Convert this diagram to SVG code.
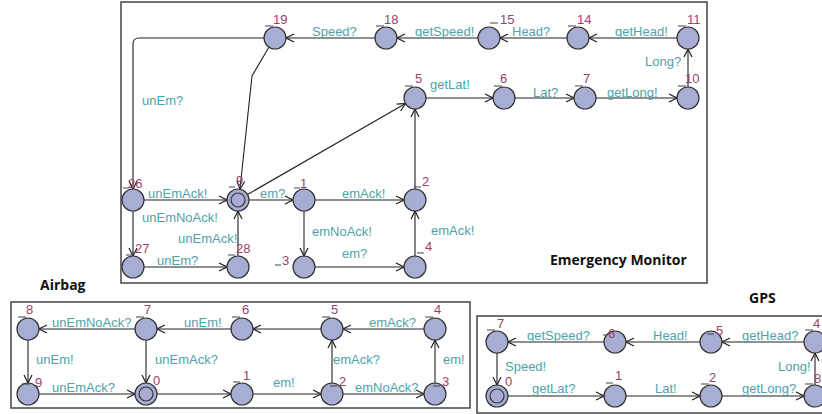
<svg xmlns="http://www.w3.org/2000/svg" width="822" height="414" viewBox="0 0 822 414">
<style>
.n circle{fill:#a7add3;stroke:#333;stroke-width:1.2}
.n line{stroke:#444;stroke-width:1}
.nm{font-family:"Liberation Sans",Arial,sans-serif;font-size:13px;fill:#9c3f6a}
.lbl{font-family:"Liberation Sans",Arial,sans-serif;font-size:13px;fill:#4ea3a8}
.e{stroke:#222;stroke-width:1.1;fill:none;marker-end:url(#a)}
.fr{fill:none;stroke:#444;stroke-width:1.5}
.ttl{font-family:"Open Sans","Noto Sans",sans-serif;font-size:14px;font-weight:bold;fill:#111}
</style>
<defs>
<marker id="a" markerUnits="userSpaceOnUse" markerWidth="10" markerHeight="10" viewBox="0 0 10 10" refX="9" refY="5" orient="auto">
<path d="M1,1 L9,5 L1,9" fill="none" stroke="#222" stroke-width="1.2"/>
</marker>
</defs>
<rect width="822" height="414" fill="#fff"/>

<!-- frames -->
<rect class="fr" x="121" y="2" width="586" height="281"/>
<rect class="fr" x="11" y="302" width="459" height="106"/>
<rect class="fr" x="477" y="316" width="360" height="97"/>
<text class="ttl" x="550" y="265">Emergency Monitor</text>
<text class="ttl" x="40" y="290">Airbag</text>
<text class="ttl" x="749" y="303">GPS</text>

<!-- connectors -->
<g id="connectors">
<!-- Emergency Monitor -->
<line class="e" x1="677" y1="38" x2="589" y2="38"/>
<line class="e" x1="567" y1="38" x2="500" y2="38"/>
<line class="e" x1="478" y1="38" x2="397" y2="38"/>
<line class="e" x1="375" y1="38" x2="286" y2="38"/>
<path class="e" d="M264,38 H139 Q133,38 133,44 V189"/>
<path class="e" d="M269,47 L252,76 L240,189"/>
<line class="e" x1="247.5" y1="194.5" x2="405.5" y2="103.5"/>
<line class="e" x1="688" y1="87" x2="688" y2="49"/>
<line class="e" x1="426" y1="98" x2="493" y2="98"/>
<line class="e" x1="515" y1="98" x2="574" y2="98"/>
<line class="e" x1="596" y1="98" x2="677" y2="98"/>
<line class="e" x1="144" y1="200" x2="227" y2="200"/>
<line class="e" x1="133" y1="211" x2="133" y2="256"/>
<line class="e" x1="144" y1="267" x2="227" y2="267"/>
<line class="e" x1="238" y1="256" x2="238" y2="211"/>
<line class="e" x1="249" y1="200" x2="293" y2="200"/>
<line class="e" x1="315" y1="200" x2="404" y2="200"/>
<line class="e" x1="304" y1="211" x2="304" y2="256"/>
<line class="e" x1="315" y1="267" x2="404" y2="267"/>
<line class="e" x1="415" y1="256" x2="415" y2="211"/>
<line class="e" x1="415" y1="189" x2="415" y2="109"/>
<!-- Airbag -->
<line class="e" x1="135" y1="329" x2="39" y2="329"/>
<line class="e" x1="231" y1="329" x2="157" y2="329"/>
<line class="e" x1="321" y1="329" x2="253" y2="329"/>
<line class="e" x1="424" y1="329" x2="343" y2="329"/>
<line class="e" x1="28" y1="340" x2="28" y2="383"/>
<line class="e" x1="146" y1="340" x2="146" y2="383"/>
<line class="e" x1="39" y1="394" x2="135" y2="394"/>
<line class="e" x1="157" y1="394" x2="231" y2="394"/>
<line class="e" x1="253" y1="394" x2="321" y2="394"/>
<line class="e" x1="332" y1="383" x2="332" y2="340"/>
<line class="e" x1="343" y1="394" x2="424" y2="394"/>
<line class="e" x1="435" y1="383" x2="435" y2="340"/>
<!-- GPS -->
<line class="e" x1="604" y1="342" x2="508" y2="342"/>
<line class="e" x1="700" y1="342" x2="626" y2="342"/>
<line class="e" x1="804" y1="342" x2="722" y2="342"/>
<line class="e" x1="497" y1="353" x2="497" y2="385"/>
<line class="e" x1="508" y1="396" x2="604" y2="396"/>
<line class="e" x1="626" y1="396" x2="700" y2="396"/>
<line class="e" x1="722" y1="396" x2="804" y2="396"/>
<line class="e" x1="815" y1="385" x2="815" y2="353"/>
</g>

<!-- edge labels -->
<g id="edge-labels">
<text class="lbl" x="615" y="36">getHead!</text>
<text class="lbl" x="512" y="36">Head?</text>
<text class="lbl" x="415" y="36">getSpeed!</text>
<text class="lbl" x="312" y="36">Speed?</text>
<text class="lbl" x="645" y="66">Long?</text>
<text class="lbl" x="430" y="89">getLat!</text>
<text class="lbl" x="533" y="97">Lat?</text>
<text class="lbl" x="607" y="97">getLong!</text>
<text class="lbl" x="142" y="105">unEm?</text>
<text class="lbl" x="148" y="198">unEmAck!</text>
<text class="lbl" x="260" y="198">em?</text>
<text class="lbl" x="342" y="198">emAck!</text>
<text class="lbl" x="142" y="222">unEmNoAck!</text>
<text class="lbl" x="178" y="243">unEmAck!</text>
<text class="lbl" x="312" y="236">emNoAck!</text>
<text class="lbl" x="431" y="235">emAck!</text>
<text class="lbl" x="342" y="258">em?</text>
<text class="lbl" x="157" y="265">unEm?</text>

<text class="lbl" x="52" y="327">unEmNoAck?</text>
<text class="lbl" x="184" y="327">unEm!</text>
<text class="lbl" x="369" y="327">emAck?</text>
<text class="lbl" x="36" y="364">unEm!</text>
<text class="lbl" x="155" y="364">unEmAck?</text>
<text class="lbl" x="333" y="364">emAck?</text>
<text class="lbl" x="443" y="364">em!</text>
<text class="lbl" x="52" y="392">unEmAck?</text>
<text class="lbl" x="273" y="387">em!</text>
<text class="lbl" x="355" y="392">emNoAck?</text>

<text class="lbl" x="527" y="340">getSpeed?</text>
<text class="lbl" x="653" y="340">Head!</text>
<text class="lbl" x="742" y="340">getHead?</text>
<text class="lbl" x="505" y="371">Speed!</text>
<text class="lbl" x="532" y="393">getLat?</text>
<text class="lbl" x="655" y="393">Lat!</text>
<text class="lbl" x="742" y="393">getLong?</text>
<text class="lbl" x="778" y="371">Long!</text>
</g>

<!-- Emergency Monitor nodes -->
<g id="em19" class="n"><circle cx="275" cy="38" r="11"/><line x1="265" y1="26" x2="273" y2="26"/><text class="nm" x="273" y="24">19</text></g>
<g id="em18" class="n"><circle cx="386" cy="38" r="11"/><line x1="376" y1="26" x2="384" y2="26"/><text class="nm" x="384" y="24">18</text></g>
<g id="em15" class="n"><circle cx="489" cy="38" r="11"/><line x1="490" y1="23" x2="498" y2="23"/><text class="nm" x="500" y="24">15</text></g>
<g id="em14" class="n"><circle cx="578" cy="38" r="11"/><line x1="568" y1="26" x2="576" y2="26"/><text class="nm" x="577" y="24">14</text></g>
<g id="em11" class="n"><circle cx="688" cy="38" r="11"/><line x1="678" y1="26" x2="686" y2="26"/><text class="nm" x="687" y="24">11</text></g>
<g id="em5" class="n"><circle cx="415" cy="98" r="11"/><line x1="405" y1="86" x2="413" y2="86"/><text class="nm" x="415" y="83">5</text></g>
<g id="em6" class="n"><circle cx="504" cy="98" r="11"/><line x1="494" y1="86" x2="502" y2="86"/><text class="nm" x="500" y="83">6</text></g>
<g id="em7" class="n"><circle cx="585" cy="98" r="11"/><line x1="575" y1="86" x2="583" y2="86"/><text class="nm" x="583" y="83">7</text></g>
<g id="em10" class="n"><circle cx="688" cy="98" r="11"/><line x1="678" y1="86" x2="686" y2="86"/><text class="nm" x="685" y="83">10</text></g>
<g id="em26" class="n"><circle cx="133" cy="200" r="11"/><line x1="123" y1="188" x2="129" y2="188"/><text class="nm" x="128" y="188">26</text></g>
<g id="em9" class="n"><circle cx="238" cy="200" r="11"/><circle cx="238" cy="200" r="7"/><line x1="229" y1="187" x2="235" y2="187"/><text class="nm" x="236" y="185">9</text></g>
<g id="em1" class="n"><circle cx="304" cy="200" r="11"/><line x1="294" y1="188" x2="300" y2="188"/><text class="nm" x="300" y="188">1</text></g>
<g id="em2" class="n"><circle cx="415" cy="200" r="11"/><line x1="414" y1="187" x2="421" y2="187"/><text class="nm" x="422" y="186">2</text></g>
<g id="em27" class="n"><circle cx="133" cy="267" r="11"/><line x1="126" y1="255" x2="133" y2="255"/><text class="nm" x="135" y="253">27</text></g>
<g id="em28" class="n"><circle cx="238" cy="267" r="11"/><line x1="228" y1="255" x2="235" y2="255"/><text class="nm" x="236" y="253">28</text></g>
<g id="em3" class="n"><circle cx="304" cy="267" r="11"/><line x1="275" y1="265" x2="281" y2="265"/><text class="nm" x="282" y="265">3</text></g>
<g id="em4" class="n"><circle cx="415" cy="267" r="11"/><line x1="417" y1="253" x2="424" y2="253"/><text class="nm" x="425" y="251">4</text></g>

<!-- Airbag nodes -->
<g id="ab8" class="n"><circle cx="28" cy="329" r="11"/><line x1="18" y1="317" x2="26" y2="317"/><text class="nm" x="26" y="314">8</text></g>
<g id="ab7" class="n"><circle cx="146" cy="329" r="11"/><line x1="136" y1="317" x2="144" y2="317"/><text class="nm" x="144" y="314">7</text></g>
<g id="ab6" class="n"><circle cx="242" cy="329" r="11"/><line x1="232" y1="317" x2="240" y2="317"/><text class="nm" x="242" y="314">6</text></g>
<g id="ab5" class="n"><circle cx="332" cy="329" r="11"/><line x1="322" y1="317" x2="330" y2="317"/><text class="nm" x="331" y="314">5</text></g>
<g id="ab4" class="n"><circle cx="435" cy="329" r="11"/><line x1="425" y1="317" x2="433" y2="317"/><text class="nm" x="434" y="314">4</text></g>
<g id="ab9" class="n"><circle cx="28" cy="394" r="11"/><line x1="22" y1="384" x2="30" y2="384"/><text class="nm" x="35" y="387">9</text></g>
<g id="ab0" class="n"><circle cx="146" cy="394" r="11"/><circle cx="146" cy="394" r="7"/><text class="nm" x="153" y="385">0</text></g>
<g id="ab1" class="n"><circle cx="242" cy="394" r="11"/><line x1="233" y1="382" x2="240" y2="382"/><text class="nm" x="243" y="380">1</text></g>
<g id="ab2" class="n"><circle cx="332" cy="394" r="11"/><line x1="330" y1="386" x2="337" y2="386"/><text class="nm" x="339" y="386">2</text></g>
<g id="ab3" class="n"><circle cx="435" cy="394" r="11"/><line x1="433" y1="386" x2="440" y2="386"/><text class="nm" x="442" y="386">3</text></g>

<!-- GPS nodes -->
<g id="gps7" class="n"><circle cx="497" cy="342" r="11"/><line x1="487" y1="330" x2="495" y2="330"/><text class="nm" x="497" y="328">7</text></g>
<g id="gps6" class="n"><circle cx="615" cy="342" r="11"/><line x1="603" y1="335" x2="607" y2="335"/><text class="nm" x="608" y="338">6</text></g>
<g id="gps5" class="n"><circle cx="711" cy="342" r="11"/><line x1="707" y1="334" x2="714" y2="334"/><text class="nm" x="716" y="335">5</text></g>
<g id="gps4" class="n"><circle cx="815" cy="342" r="11"/><line x1="805" y1="330" x2="813" y2="330"/><text class="nm" x="813" y="328">4</text></g>
<g id="gps0" class="n"><circle cx="497" cy="396" r="11"/><circle cx="497" cy="396" r="7"/><text class="nm" x="505" y="386">0</text></g>
<g id="gps1" class="n"><circle cx="615" cy="396" r="11"/><line x1="606" y1="383" x2="613" y2="383"/><text class="nm" x="615" y="380">1</text></g>
<g id="gps2" class="n"><circle cx="711" cy="396" r="11"/><line x1="701" y1="384" x2="709" y2="384"/><text class="nm" x="709" y="382">2</text></g>
<g id="gps8" class="n"><circle cx="815" cy="396" r="11"/><line x1="805" y1="384" x2="813" y2="384"/><text class="nm" x="814" y="383">8</text></g>
</svg>
